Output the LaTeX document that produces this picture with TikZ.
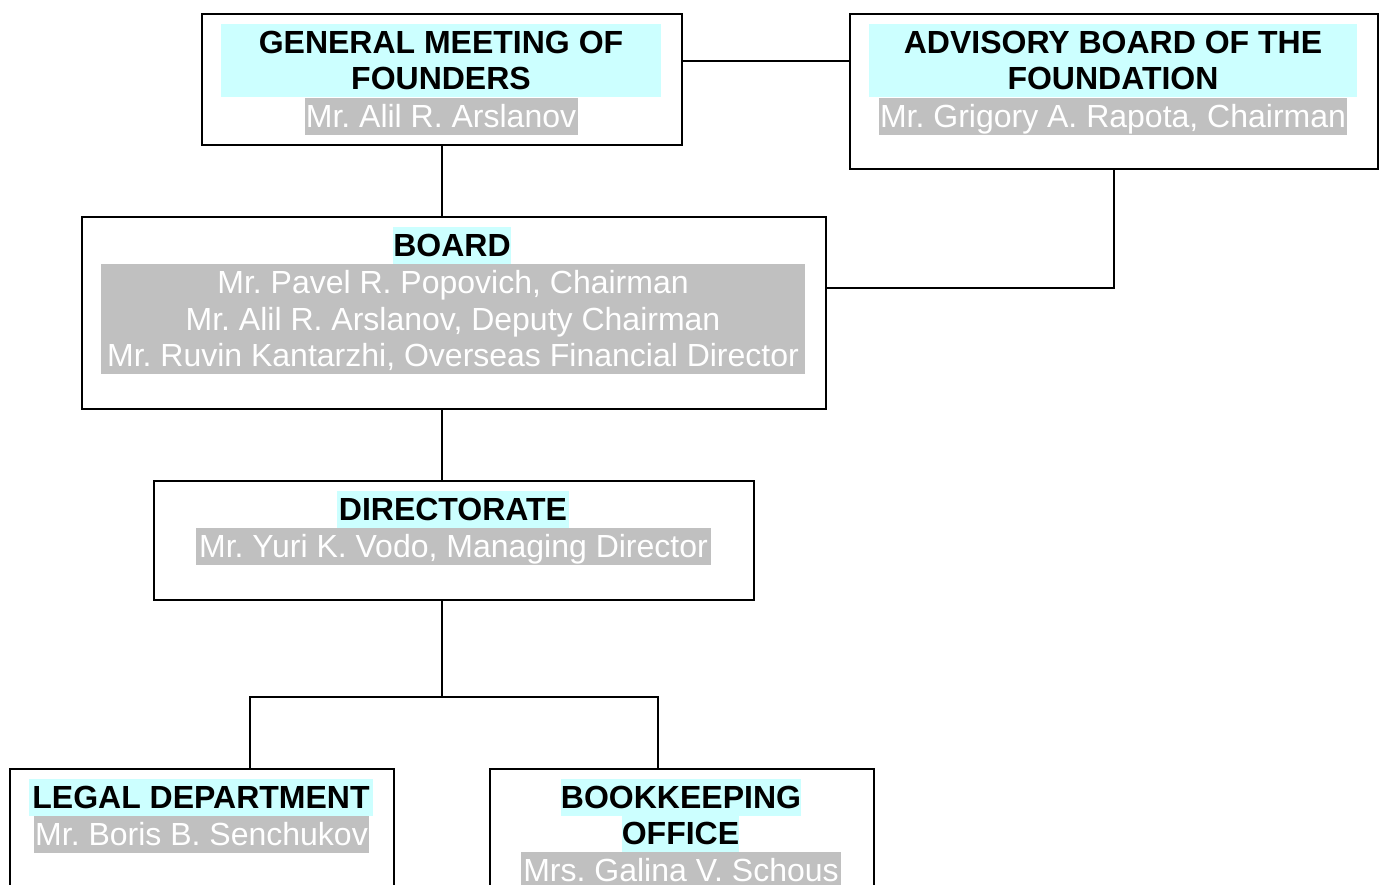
\documentclass[tikz,border=0pt]{standalone}
\usepackage{fontspec}
\setmainfont{Liberation Sans}
\definecolor{bandcyan}{HTML}{CCFFFF}
\definecolor{bandgrey}{HTML}{C0C0C0}
\newcommand\ST{\rule[-7.3pt]{0pt}{36.5pt}}
\frenchspacing
\tikzset{
  orgbox/.style={draw=black, line width=2pt, inner sep=0pt, anchor=north west},
  head/.style={fill=bandcyan, inner sep=0pt, anchor=north, align=center, text=black,
    font=\fontsize{32}{36.5}\selectfont\bfseries\frenchspacing},
  person/.style={fill=bandgrey, inner sep=0pt, anchor=north, align=center, text=white,
    font=\fontsize{32}{36.5}\selectfont\frenchspacing},
  link/.style={draw=black, line width=2pt}
}
\begin{document}
\begin{tikzpicture}[x=1pt,y=-1pt]
\useasboundingbox (0,0) rectangle (1380,884);
\clip (0,0) rectangle (1380,884);
% boxes
\node[orgbox, minimum width=480, minimum height=131] (gm) at (201,13) {};
\node[orgbox, minimum width=528, minimum height=155] (adv) at (849,13) {};
\node[orgbox, minimum width=744, minimum height=192] (board) at (81,216) {};
\node[orgbox, minimum width=600, minimum height=119] (dir) at (153,480) {};
\node[orgbox, minimum width=384, minimum height=200] (legal) at (9,768) {};
\node[orgbox, minimum width=384, minimum height=200] (book) at (489,768) {};
% texts
\node[head, minimum width=440, minimum height=73] (gmh) at (441,24) {\ST GENERAL MEETING OF\\\ST FOUNDERS};
\node[person, minimum width=273, minimum height=35] (gmp) at (441,98) {\ST Mr. Alil R. Arslanov};
\node[head, minimum width=488, minimum height=73] (advh) at (1113,24) {\ST ADVISORY BOARD OF THE\\\ST FOUNDATION};
\node[person, minimum width=468, minimum height=35] (advp) at (1113,98) {\ST Mr. Grigory A. Rapota, Chairman};
\node[head, minimum width=118, minimum height=36] (boardh) at (452,227) {\ST BOARD};
\node[person, minimum width=704, minimum height=110] (boardp) at (453,264) {\ST Mr. Pavel R. Popovich, Chairman\\\ST Mr. Alil R. Arslanov, Deputy Chairman\\\ST Mr. Ruvin Kantarzhi, Overseas Financial Director};
\node[head, minimum width=232, minimum height=36] (dirh) at (453,491) {\ST DIRECTORATE};
\node[person, minimum width=515, minimum height=35] (dirp) at (453.5,528) {\ST Mr. Yuri K. Vodo, Managing Director};
\node[head, minimum width=344, minimum height=36] (legalh) at (201,779) {\ST LEGAL DEPARTMENT};
\node[person, minimum width=335, minimum height=35] (legalp) at (201.5,816) {\ST Mr. Boris B. Senchukov};
\node[head, minimum width=240, minimum height=36] (bookh) at (681,779) {\ST BOOKKEEPING};
\node[head, minimum width=117, minimum height=36] (bookh2) at (680.5,815) {\ST OFFICE};
\node[person, minimum width=320, minimum height=35] (bookp) at (681,852) {\ST Mrs. Galina V. Schous};
% connectors
\coordinate (j) at ([xshift=-12pt,yshift=-96pt]dir.south);
\draw[link] ([yshift=-48pt]gm.north east) -- ([yshift=-48pt]adv.north west);
\draw[link] (gm.south) -- (gm.south |- board.north);
\draw[link] (adv.south) |- ([yshift=-72pt]board.north east);
\draw[link] ([xshift=-12pt]board.south) -- ([xshift=-12pt]dir.north);
\draw[link] ([xshift=-12pt]dir.south) -- (j);
\draw[link] ([xshift=48pt]legal.north) |- (j) -| ([xshift=-24pt]book.north);
\end{tikzpicture}
\end{document}
